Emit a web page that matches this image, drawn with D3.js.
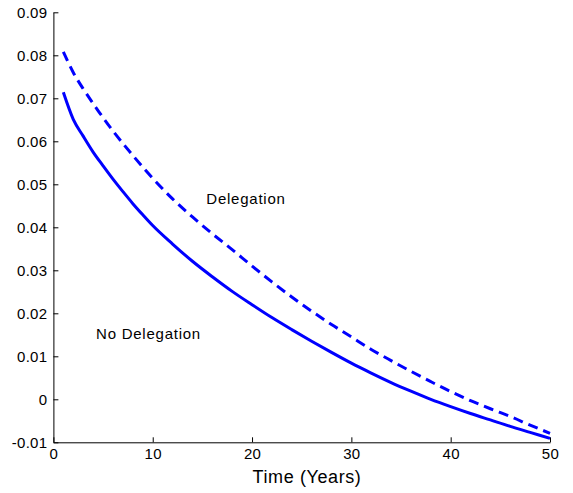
<!DOCTYPE html>
<html>
<head>
<meta charset="utf-8">
<script src="https://cdn.jsdelivr.net/npm/d3@7/dist/d3.min.js"></script>
<style>
  html, body { margin: 0; padding: 0; background: #fff; }
  svg { display: block; font-family: "Liberation Sans", Arial, Helvetica, sans-serif; }
</style>
</head>
<body>
<svg id="chart" width="573" height="493"></svg>
<script>
// ---- data ----
const years = [1, 2, 3, 4, 5, 6, 7, 8, 9, 10, 12, 14, 16, 18, 20, 22, 24, 26, 28, 30, 32, 34, 36, 38, 40, 42, 44, 46, 48, 50];
const noDelegation = [0.0714, 0.0651, 0.0612, 0.0575, 0.0543, 0.0512, 0.0483, 0.0455, 0.0429, 0.0404,
  0.0361, 0.0321, 0.0285, 0.0251, 0.0220, 0.0190, 0.0162, 0.0135, 0.0109, 0.0084,
  0.0061, 0.0039, 0.0019, 0.0000, -0.0017, -0.0033, -0.0048, -0.0063, -0.0077, -0.0091];
const delegation = [0.0808, 0.0760, 0.0722, 0.0688, 0.0655, 0.0624, 0.0595, 0.0567, 0.0540, 0.0514,
  0.0466, 0.0424, 0.0385, 0.0348, 0.0310, 0.0273, 0.0238, 0.0205, 0.0174, 0.0145,
  0.0116, 0.0090, 0.0065, 0.0041, 0.0018, -0.0003, -0.0022, -0.0040, -0.0060, -0.0079];
const xTicks = [0, 10, 20, 30, 40, 50];
const xTickLabels = ["0", "10", "20", "30", "40", "50"];
const yTicks = [-0.01, 0, 0.01, 0.02, 0.03, 0.04, 0.05, 0.06, 0.07, 0.08, 0.09];
const yTickLabels = ["-0.01", "0", "0.01", "0.02", "0.03", "0.04", "0.05", "0.06", "0.07", "0.08", "0.09"];
const xLabel = "Time (Years)";
const annotations = [
  { text: "Delegation", t: 15.4, v: 0.0454 },
  { text: "No Delegation", t: 4.3, v: 0.0140 }
];

// ---- layout ----
const svg = d3.select("#chart");
const x = d3.scaleLinear().domain([0, 50]).range([53.4, 550]);
const y = d3.scaleLinear().domain([-0.01, 0.09]).range([442.3, 12.3]);

const xAxis = d3.axisBottom(x)
  .tickValues(xTicks)
  .tickFormat((d, i) => xTickLabels[i])
  .tickSizeInner(-5).tickSizeOuter(0).tickPadding(6);
const yAxis = d3.axisLeft(y)
  .tickValues(yTicks)
  .tickFormat((d, i) => yTickLabels[i])
  .tickSizeInner(-5).tickSizeOuter(0).tickPadding(6);

const gx = svg.append("g").attr("transform", `translate(0,${y(-0.01)})`).call(xAxis);
const gy = svg.append("g").attr("transform", `translate(${x(0)},0)`).call(yAxis);

[gx, gy].forEach(g => {
  g.select(".domain").attr("stroke", "#000").attr("stroke-width", 1);
  g.selectAll(".tick line").attr("stroke", "#000").attr("stroke-width", 1);
  g.selectAll(".tick text")
    .attr("fill", "#000")
    .style("font-size", "15px")
    .style("letter-spacing", "0.3px")
    .style("font-family", '"Liberation Sans", Arial, sans-serif');
});

svg.append("text")
  .attr("x", 307)
  .attr("y", 483)
  .attr("text-anchor", "middle")
  .style("font-size", "18px")
  .style("letter-spacing", "0.6px")
  .text(xLabel);

// ---- lines ----
const pts = vals => years.map((t, i) => [t, vals[i]]);
const line = d3.line().x(d => x(d[0])).y(d => y(d[1])).curve(d3.curveMonotoneX);

svg.append("path")
  .attr("d", line(pts(noDelegation)))
  .attr("fill", "none")
  .attr("stroke", "#0000ff")
  .attr("stroke-width", 3);

svg.append("path")
  .attr("d", line(pts(delegation)))
  .attr("fill", "none")
  .attr("stroke", "#0000ff")
  .attr("stroke-width", 3)
  .attr("stroke-dasharray", "10,6");

// ---- annotations ----
svg.selectAll("text.annot")
  .data(annotations)
  .enter().append("text")
  .attr("class", "annot")
  .attr("x", d => x(d.t))
  .attr("y", d => y(d.v))
  .style("font-size", "15px")
  .style("letter-spacing", "0.75px")
  .text(d => d.text);
</script>
</body>
</html>
